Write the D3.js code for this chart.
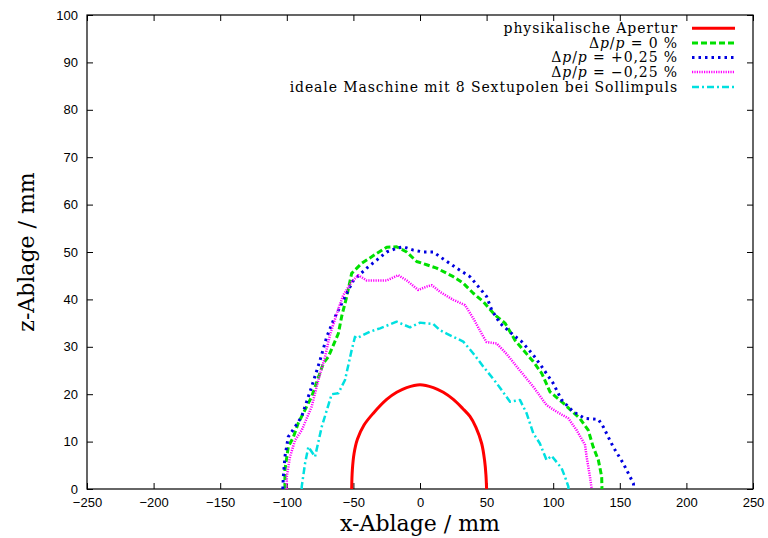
<!DOCTYPE html>
<html>
<head>
<meta charset="utf-8">
<script src="https://cdn.jsdelivr.net/npm/d3@7"></script>
<style>
  body { margin: 0; background: #fff; }
  svg { display: block; }
</style>
</head>
<body>
<script>
const width = 768;
const height = 538;
const margin = {top: 15, right: 15, bottom: 49, left: 87};

const xTicks = [-250, -200, -150, -100, -50, 0, 50, 100, 150, 200, 250];
const yTicks = [0, 10, 20, 30, 40, 50, 60, 70, 80, 90, 100];

// physikalische Apertur
const apertur = [
  [-51.3, 0], [-50.8, 4], [-49.5, 7.5], [-47, 10.5], [-42, 13.5], [-35, 16], [-25, 18.9],
  [-17.5, 20.4], [-10, 21.4], [0, 22], [10, 21.4], [17.5, 20.4], [25, 18.9], [32, 17],
  [37.5, 15.3], [42, 13], [46.3, 9.6], [48.5, 6], [49.5, 3], [50, 0]
];
// dp/p = 0 %
const dp0 = [
  [-101.4, 0], [-101.4, 4], [-98.9, 8.9], [-95, 11], [-91.4, 13.9], [-81.3, 19.5],
  [-72.6, 26.5], [-68.8, 27.9], [-61.3, 32.8], [-58.8, 36.4], [-55, 40.6], [-51.3, 45.5],
  [-43.8, 47.6], [-32.5, 49.7], [-25, 51], [-17.5, 51.1], [-10, 50], [-2.5, 48],
  [5, 47.3], [12.5, 46.6], [25, 44.8], [32.5, 43.4], [40, 41.3], [47.6, 39.5],
  [56.3, 36.7], [63.8, 35], [67.6, 33.2], [71.3, 31.4], [77.6, 29.3], [85, 26.9],
  [91.4, 24.4], [97.6, 20.5], [107.6, 18.1], [120, 14.9], [126.3, 12.4], [130, 8.9],
  [133.9, 6.1], [136.4, 2.6], [136.6, 0]
];
// dp/p = +0,25 %
const dpPlus = [
  [-103, 0], [-102.6, 2.6], [-101.4, 6.8], [-98.9, 11], [-93.8, 13.1], [-88.8, 15.3],
  [-81.3, 21.6], [-75, 27.2], [-70, 32.1], [-65, 35.6], [-55, 41.3], [-50, 44],
  [-40, 46.6], [-32.5, 48.3], [-25, 50], [-17.5, 50.8], [-12.5, 51.1], [-5, 50.4],
  [2.5, 50], [10, 50], [15, 49], [27.5, 46.6], [37.5, 44.8], [45, 42.3], [50, 40.6],
  [53.8, 37.8], [60, 35], [70, 32.5], [76.3, 31.1], [85, 28.3], [91.4, 25.8],
  [100, 22.3], [106.3, 18.8], [115, 16.3], [123.9, 14.9], [133.9, 14.7], [137.6, 13.1],
  [145, 8.9], [152.6, 5.4], [160.2, 1.2], [160.5, 0]
];
// dp/p = -0,25 %
const dpMinus = [
  [-100, 0], [-100, 2.6], [-97.6, 6.8], [-93.8, 10.3], [-88.8, 12.4], [-81.3, 17.4],
  [-76.3, 23], [-71.3, 27.9], [-67.6, 32.5], [-62.5, 37], [-57.6, 40.9], [-51.3, 43.7],
  [-46.3, 45.1], [-40, 44], [-25, 44], [-16.3, 45.1], [-10, 44], [-1.3, 42],
  [5, 42.7], [8.8, 43], [15, 41.6], [25, 39.9], [33.8, 38.8], [40, 36], [47.6, 32.1],
  [50, 31], [57.6, 30.7], [65, 28.5], [75, 25], [85, 21.6], [95, 17.7], [102.6, 16.3],
  [111.4, 14.9], [117.6, 12.4], [123.9, 9.3], [125.1, 6.8], [127.6, 2.6], [128.9, 0]
];
// ideale Maschine mit 8 Sextupolen bei Sollimpuls
const ideal = [
  [-88.8, 0], [-88.8, 0.5], [-86.3, 5.4], [-83.8, 8.9], [-78.8, 6.8], [-73.8, 13.1],
  [-66.3, 20], [-61.3, 20.2], [-56.3, 23], [-51.3, 29.3], [-48.8, 32.1], [-47.5, 31.8],
  [-37.5, 33.2], [-30, 33.9], [-17.5, 35.3], [-7.5, 34.1], [0, 35.1], [10, 34.8],
  [15, 33.5], [20, 32.8], [25, 32.1], [32.5, 31.1], [40, 28.6], [47.6, 25.8],
  [57.6, 22.3], [67.6, 18.4], [75, 18.8], [80, 16], [85, 11.8], [90, 9.6], [95, 6.1],
  [98.8, 7], [106.3, 4.4], [108.8, 2.6], [111.4, 0.5], [111.4, 0]
];

const seriesData = [apertur, dp0, dpPlus, dpMinus, ideal];
const seriesColor = ["#ff0000", "#00e000", "#0000e0", "#ff00ff", "#00e0e0"];
const seriesDash = [null, "6,3", "2.5,4", "1.2,1.2", "7,3,2,3"];
const seriesWidth = [3, 3, 3, 2.5, 2.5];

const x = d3.scaleLinear().domain([-250, 250]).range([margin.left, width - margin.right]);
const y = d3.scaleLinear().domain([0, 100]).range([height - margin.bottom, margin.top]);

const svg = d3.select("body").append("svg").attr("width", width).attr("height", height);

const tickFont = "'Liberation Sans', Arial, sans-serif";
const serif = "'DejaVu Serif', serif";

// axes with inward ticks, mirrored on top and right
svg.append("g")
  .attr("transform", `translate(0,${y(0)})`)
  .call(d3.axisBottom(x).tickValues(xTicks).tickSize(-6).tickSizeOuter(0).tickPadding(9))
  .call(g => g.select(".domain").remove())
  .call(g => g.selectAll("text").attr("font-family", tickFont).attr("font-size", 13).attr("fill", "#000"));
svg.append("g")
  .attr("transform", `translate(0,${y(100)})`)
  .call(d3.axisTop(x).tickValues(xTicks).tickSize(-6).tickSizeOuter(0).tickFormat(""))
  .call(g => g.select(".domain").remove());
svg.append("g")
  .attr("transform", `translate(${x(-250)},0)`)
  .call(d3.axisLeft(y).tickValues(yTicks).tickSize(-6).tickSizeOuter(0).tickPadding(9))
  .call(g => g.select(".domain").remove())
  .call(g => g.selectAll("text").attr("font-family", tickFont).attr("font-size", 13).attr("fill", "#000"));
svg.append("g")
  .attr("transform", `translate(${x(250)},0)`)
  .call(d3.axisRight(y).tickValues(yTicks).tickSize(-6).tickSizeOuter(0).tickFormat(""))
  .call(g => g.select(".domain").remove());

svg.selectAll(".tick line").attr("stroke", "#000");

svg.append("rect")
  .attr("x", x(-250)).attr("y", y(100))
  .attr("width", x(250) - x(-250)).attr("height", y(0) - y(100))
  .attr("fill", "none").attr("stroke", "#000").attr("stroke-width", 1.2);

const line = d3.line().x(d => x(d[0])).y(d => y(d[1]));
const smooth = d3.line().x(d => x(d[0])).y(d => y(d[1])).curve(d3.curveCatmullRom);

svg.append("g").selectAll("path")
  .data(seriesData)
  .join("path")
  .attr("d", (d, i) => i === 0 ? smooth(d) : line(d))
  .attr("fill", "none")
  .attr("stroke", (d, i) => seriesColor[i])
  .attr("stroke-width", (d, i) => seriesWidth[i])
  .attr("stroke-dasharray", (d, i) => seriesDash[i])
  .attr("stroke-linejoin", "round");

// legend
const legend = svg.append("g");
const rowY = [28.3, 43, 57.5, 72, 87];
const labels = [
  [{t: "physikalische Apertur"}],
  [{t: "Δ"}, {t: "p", i: true}, {t: "/"}, {t: "p", i: true}, {t: " = 0 %"}],
  [{t: "Δ"}, {t: "p", i: true}, {t: "/"}, {t: "p", i: true}, {t: " = +0,25 %"}],
  [{t: "Δ"}, {t: "p", i: true}, {t: "/"}, {t: "p", i: true}, {t: " = −0,25 %"}],
  [{t: "ideale Maschine mit 8 Sextupolen bei Sollimpuls"}]
];
labels.forEach((parts, i) => {
  const t = legend.append("text")
    .attr("x", 678).attr("y", rowY[i] + 4.5)
    .attr("text-anchor", "end")
    .attr("font-family", serif).attr("font-size", 14)
    .attr("letter-spacing", 0.9)
    .attr("xml:space", "preserve");
  parts.forEach(p => t.append("tspan").attr("font-style", p.i ? "italic" : null).text(p.t));
  legend.append("line")
    .attr("x1", 692).attr("x2", 735).attr("y1", rowY[i]).attr("y2", rowY[i])
    .attr("stroke", seriesColor[i])
    .attr("stroke-width", seriesWidth[i])
    .attr("stroke-dasharray", seriesDash[i]);
});

// axis titles
svg.append("text")
  .attr("x", x(0)).attr("y", 531)
  .attr("text-anchor", "middle")
  .attr("font-family", serif).attr("font-size", 22)
  .text("x-Ablage / mm");
svg.append("text")
  .attr("transform", `translate(34,${(y(0) + y(100)) / 2}) rotate(-90)`)
  .attr("text-anchor", "middle")
  .attr("font-family", serif).attr("font-size", 22)
  .text("z-Ablage / mm");
</script>
</body>
</html>
